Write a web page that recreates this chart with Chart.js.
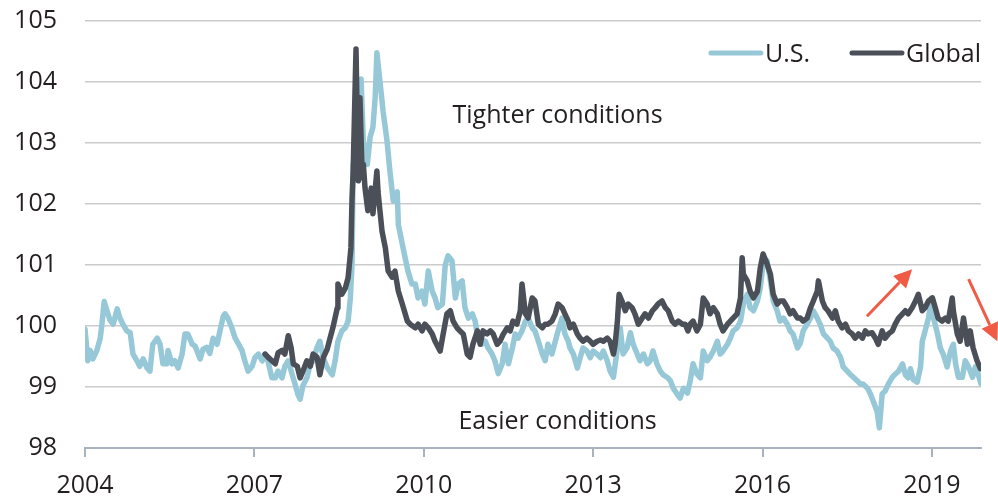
<!DOCTYPE html>
<html><head><meta charset="utf-8">
<script src="https://cdn.jsdelivr.net/npm/chart.js@4"></script>
<style>html,body{margin:0;padding:0;background:#fff;}#wrap{width:998px;height:497px;}</style>
</head><body><div id="wrap"><canvas id="c" width="998" height="497"></canvas></div>
<script>
// [decimal year, index value]
const usSeries = [
[2004.00,99.95],[2004.05,99.43],[2004.09,99.6],[2004.14,99.46],[2004.21,99.6],[2004.27,99.8],[2004.30,100.03],[2004.34,100.4],[2004.39,100.25],[2004.44,100.1],
[2004.50,100.03],[2004.57,100.28],[2004.62,100.13],[2004.67,100.03],[2004.74,99.92],[2004.80,99.89],[2004.85,99.54],[2004.92,99.43],[2004.97,99.34],[2005.03,99.46],
[2005.10,99.31],[2005.15,99.26],[2005.20,99.7],[2005.28,99.8],[2005.33,99.7],[2005.38,99.38],[2005.45,99.38],[2005.47,99.6],[2005.54,99.38],[2005.59,99.43],
[2005.65,99.31],[2005.72,99.54],[2005.77,99.87],[2005.82,99.87],[2005.90,99.7],[2005.95,99.67],[2006.04,99.46],[2006.09,99.62],[2006.16,99.65],[2006.21,99.55],
[2006.27,99.8],[2006.34,99.7],[2006.39,99.92],[2006.45,100.16],[2006.48,100.2],[2006.53,100.13],[2006.60,99.97],[2006.66,99.8],[2006.71,99.72],[2006.78,99.6],
[2006.83,99.43],[2006.89,99.26],[2006.96,99.34],[2007.01,99.48],[2007.07,99.54],[2007.14,99.43],[2007.19,99.54],[2007.24,99.43],[2007.31,99.15],[2007.37,99.15],
[2007.42,99.26],[2007.49,99.15],[2007.54,99.34],[2007.60,99.43],[2007.67,99.2],[2007.72,99.05],[2007.77,98.88],[2007.81,98.8],[2007.86,99.02],[2007.93,99.15],
[2007.99,99.38],[2008.04,99.43],[2008.11,99.65],[2008.16,99.75],[2008.22,99.48],[2008.29,99.32],[2008.38,99.2],[2008.43,99.43],[2008.48,99.75],[2008.55,99.92],
[2008.61,99.97],[2008.66,100.08],[2008.70,100.46],[2008.73,101.02],[2008.75,102.66],[2008.78,102.7],[2008.84,102.75],[2008.89,104.05],[2008.93,103.03],[2009.00,102.65],
[2009.05,103.1],[2009.10,103.26],[2009.14,103.75],[2009.17,104.48],[2009.23,103.96],[2009.28,103.52],[2009.35,103.03],[2009.40,102.54],[2009.46,102.05],[2009.53,102.2],
[2009.55,101.66],[2009.62,101.34],[2009.67,101.12],[2009.72,100.9],[2009.79,100.69],[2009.85,100.69],[2009.90,100.46],[2009.97,100.57],[2010.02,100.36],[2010.08,100.9],
[2010.15,100.57],[2010.20,100.46],[2010.25,100.3],[2010.33,100.36],[2010.38,101.0],[2010.43,101.15],[2010.50,101.07],[2010.56,100.46],[2010.61,100.69],[2010.68,100.74],
[2010.73,100.3],[2010.79,100.13],[2010.86,100.2],[2010.91,100.08],[2010.96,99.8],[2011.03,99.7],[2011.09,99.75],[2011.14,99.64],[2011.21,99.54],[2011.26,99.43],
[2011.32,99.22],[2011.39,99.38],[2011.44,99.7],[2011.50,99.38],[2011.57,99.64],[2011.62,99.87],[2011.67,99.8],[2011.74,99.92],[2011.80,100.08],[2011.85,100.13],
[2011.92,99.97],[2011.97,99.92],[2012.03,99.75],[2012.10,99.54],[2012.15,99.43],[2012.20,99.7],[2012.27,99.54],[2012.33,99.75],[2012.38,99.92],[2012.45,100.13],
[2012.50,99.87],[2012.56,99.75],[2012.59,99.64],[2012.65,99.54],[2012.72,99.31],[2012.77,99.48],[2012.82,99.64],[2012.89,99.59],[2012.95,99.48],[2013.00,99.59],
[2013.07,99.54],[2013.13,99.48],[2013.18,99.59],[2013.25,99.43],[2013.30,99.26],[2013.36,99.16],[2013.43,99.64],[2013.48,99.97],[2013.53,99.54],[2013.60,99.64],
[2013.66,99.89],[2013.71,99.7],[2013.78,99.54],[2013.83,99.43],[2013.89,99.54],[2013.96,99.38],[2014.01,99.43],[2014.06,99.59],[2014.13,99.38],[2014.19,99.26],
[2014.24,99.2],[2014.31,99.16],[2014.37,99.1],[2014.42,98.98],[2014.49,98.88],[2014.54,98.82],[2014.60,98.98],[2014.67,98.9],[2014.72,99.1],[2014.77,99.38],
[2014.84,99.21],[2014.90,99.15],[2014.95,99.59],[2015.02,99.43],[2015.07,99.49],[2015.13,99.59],[2015.20,99.75],[2015.25,99.54],[2015.30,99.59],[2015.38,99.7],
[2015.43,99.8],[2015.48,99.92],[2015.55,99.97],[2015.61,100.08],[2015.66,100.36],[2015.73,100.52],[2015.78,100.3],[2015.84,100.25],[2015.91,100.41],[2015.96,100.62],
[2016.01,101.02],[2016.08,101.07],[2016.14,100.74],[2016.19,100.41],[2016.26,100.25],[2016.31,100.08],[2016.37,100.13],[2016.44,100.03],[2016.49,99.92],[2016.54,99.87],
[2016.62,99.64],[2016.67,99.72],[2016.72,99.92],[2016.79,100.03],[2016.85,100.13],[2016.90,100.25],[2016.97,100.13],[2017.02,100.03],[2017.08,99.87],[2017.15,99.8],
[2017.20,99.75],[2017.25,99.64],[2017.32,99.59],[2017.38,99.49],[2017.43,99.33],[2017.50,99.26],[2017.55,99.21],[2017.61,99.16],[2017.68,99.1],[2017.73,99.05],
[2017.78,99.05],[2017.86,98.98],[2017.91,98.89],[2017.96,98.77],[2018.03,98.6],[2018.07,98.33],[2018.12,98.89],[2018.17,98.93],[2018.23,99.05],[2018.30,99.16],
[2018.35,99.21],[2018.41,99.26],[2018.48,99.38],[2018.53,99.2],[2018.58,99.15],[2018.62,99.3],[2018.67,99.12],[2018.74,99.08],[2018.80,99.33],[2018.83,99.75],
[2018.88,99.92],[2018.94,100.13],[2018.99,100.46],[2019.03,100.13],[2019.10,99.87],[2019.15,99.64],[2019.20,99.54],[2019.27,99.33],[2019.33,99.59],[2019.38,99.7],
[2019.42,99.38],[2019.47,99.16],[2019.54,99.16],[2019.59,99.43],[2019.65,99.33],[2019.72,99.16],[2019.77,99.33],[2019.82,99.21],[2019.87,99.05]
];
const globalSeries = [
[2007.19,99.54],[2007.24,99.49],[2007.31,99.43],[2007.37,99.38],[2007.42,99.56],[2007.49,99.6],[2007.54,99.54],[2007.60,99.84],[2007.65,99.65],[2007.69,99.38],
[2007.76,99.34],[2007.81,99.15],[2007.86,99.26],[2007.93,99.43],[2007.99,99.34],[2008.04,99.54],[2008.11,99.49],[2008.16,99.2],[2008.22,99.48],[2008.29,99.62],
[2008.34,99.8],[2008.39,99.97],[2008.47,100.3],[2008.48,100.69],[2008.55,100.52],[2008.61,100.62],[2008.66,100.79],[2008.71,101.28],[2008.73,102.1],[2008.75,102.54],
[2008.80,104.54],[2008.84,102.38],[2008.87,103.74],[2008.91,102.43],[2008.93,102.65],[2008.96,102.26],[2009.01,101.89],[2009.07,102.26],[2009.10,101.84],[2009.17,102.54],
[2009.19,102.2],[2009.26,101.56],[2009.32,101.28],[2009.37,100.9],[2009.44,100.8],[2009.49,100.9],[2009.55,100.57],[2009.62,100.36],[2009.71,100.08],[2009.76,100.03],
[2009.85,99.97],[2009.90,100.03],[2009.97,99.92],[2010.02,100.03],[2010.08,99.97],[2010.15,99.87],[2010.20,99.75],[2010.29,99.59],[2010.34,99.85],[2010.41,100.2],
[2010.47,100.25],[2010.52,100.08],[2010.59,99.97],[2010.64,99.92],[2010.70,99.87],[2010.77,99.54],[2010.82,99.49],[2010.87,99.7],[2010.95,99.92],[2011.00,99.7],
[2011.05,99.92],[2011.12,99.87],[2011.18,99.92],[2011.23,99.87],[2011.30,99.7],[2011.35,99.75],[2011.41,99.87],[2011.48,99.97],[2011.53,99.92],[2011.58,100.08],
[2011.65,100.03],[2011.71,100.25],[2011.74,100.69],[2011.80,100.2],[2011.85,100.13],[2011.92,100.46],[2011.97,100.41],[2012.03,100.03],[2012.10,99.97],[2012.15,100.03],
[2012.20,100.03],[2012.27,100.08],[2012.33,100.2],[2012.38,100.36],[2012.45,100.3],[2012.50,100.2],[2012.56,100.08],[2012.59,99.97],[2012.65,100.03],[2012.72,99.87],
[2012.77,99.8],[2012.82,99.75],[2012.89,99.8],[2012.95,99.75],[2013.00,99.7],[2013.07,99.75],[2013.13,99.77],[2013.18,99.75],[2013.25,99.8],[2013.30,99.75],
[2013.36,99.54],[2013.39,99.7],[2013.43,100.08],[2013.46,100.52],[2013.51,100.41],[2013.57,100.25],[2013.62,100.36],[2013.69,100.3],[2013.74,100.2],[2013.80,100.03],
[2013.87,100.13],[2013.92,100.2],[2013.98,100.13],[2014.05,100.25],[2014.10,100.3],[2014.15,100.36],[2014.22,100.41],[2014.28,100.3],[2014.33,100.25],[2014.40,100.08],
[2014.45,100.03],[2014.51,100.08],[2014.58,100.03],[2014.63,100.03],[2014.68,99.92],[2014.72,100.03],[2014.77,100.08],[2014.84,99.92],[2014.90,100.03],[2014.95,100.46],
[2015.02,100.36],[2015.07,100.2],[2015.13,100.3],[2015.20,100.2],[2015.25,100.03],[2015.30,99.92],[2015.38,100.03],[2015.43,100.08],[2015.48,100.13],[2015.55,100.2],
[2015.61,100.46],[2015.64,101.12],[2015.66,100.85],[2015.73,100.74],[2015.78,100.57],[2015.84,100.46],[2015.91,100.57],[2015.96,100.95],[2016.01,101.18],[2016.08,101.02],
[2016.14,100.85],[2016.19,100.52],[2016.26,100.36],[2016.31,100.41],[2016.37,100.41],[2016.44,100.3],[2016.49,100.2],[2016.54,100.25],[2016.62,100.13],[2016.67,100.13],
[2016.72,100.08],[2016.79,100.13],[2016.85,100.3],[2016.90,100.41],[2016.97,100.57],[2016.99,100.74],[2017.06,100.41],[2017.11,100.3],[2017.16,100.25],[2017.24,100.13],
[2017.29,100.25],[2017.34,100.08],[2017.41,99.97],[2017.47,100.03],[2017.52,99.92],[2017.59,99.87],[2017.64,99.8],[2017.70,99.87],[2017.77,99.8],[2017.82,99.92],
[2017.87,99.87],[2017.94,99.89],[2018.00,99.8],[2018.05,99.7],[2018.12,99.92],[2018.17,99.8],[2018.23,99.87],[2018.30,99.92],[2018.35,100.03],[2018.41,100.13],
[2018.48,100.2],[2018.53,100.25],[2018.58,100.2],[2018.65,100.3],[2018.71,100.41],[2018.76,100.52],[2018.83,100.25],[2018.88,100.3],[2018.94,100.41],[2019.01,100.46],
[2019.06,100.3],[2019.11,100.13],[2019.18,100.08],[2019.24,100.13],[2019.29,100.08],[2019.36,100.46],[2019.38,100.25],[2019.45,99.87],[2019.50,99.75],[2019.56,100.13],
[2019.63,99.7],[2019.68,99.92],[2019.73,99.64],[2019.80,99.43],[2019.86,99.3]
];
const xTickValues = [2004, 2007, 2010, 2013, 2016, 2019];
const yTickValues = [98, 99, 100, 101, 102, 103, 104, 105];
const seriesNames = ['U.S.', 'Global'];
const seriesColors = ['#96c8d8', '#4a4f58'];
const notes = [
  {text: 'Tighter conditions', x: 2012.37, y: 103.33},
  {text: 'Easier conditions', x: 2012.37, y: 98.31}
];
const arrows = [
  {from: [2017.85, 100.16], to: [2018.65, 100.93]},
  {from: [2019.65, 100.77], to: [2020.16, 99.75]}
];

const FONT = '"Open Sans", "Noto Sans", sans-serif';
const TEXT = '#231f20';

const overlay = {
  id: 'overlay',
  afterDatasetsDraw(chart) {
    const ctx = chart.ctx, xs = chart.scales.x, ys = chart.scales.y, ca = chart.chartArea;
    ctx.save();
    ctx.font = '25px ' + FONT;
    ctx.fillStyle = TEXT;
    ctx.textAlign = 'center';
    ctx.textBaseline = 'alphabetic';
    notes.forEach(n => ctx.fillText(n.text, xs.getPixelForValue(n.x), ys.getPixelForValue(n.y)));
    ctx.strokeStyle = '#ef5b45';
    ctx.fillStyle = '#ef5b45';
    ctx.lineWidth = 3;
    arrows.forEach(a => {
      const x1 = xs.getPixelForValue(a.from[0]), y1 = ys.getPixelForValue(a.from[1]);
      const x2 = xs.getPixelForValue(a.to[0]), y2 = ys.getPixelForValue(a.to[1]);
      const ang = Math.atan2(y2 - y1, x2 - x1);
      const hl = 18, hw = 9;
      const bx = x2 - hl * Math.cos(ang), by = y2 - hl * Math.sin(ang);
      ctx.beginPath(); ctx.moveTo(x1, y1); ctx.lineTo(bx, by); ctx.stroke();
      ctx.beginPath();
      ctx.moveTo(x2, y2);
      ctx.lineTo(bx + hw * Math.sin(ang), by - hw * Math.cos(ang));
      ctx.lineTo(bx - hw * Math.sin(ang), by + hw * Math.cos(ang));
      ctx.closePath(); ctx.fill();
    });
    ctx.textAlign = 'left';
    const lineLen = 54, gap = 2, itemGap = 40;
    const widths = seriesNames.map(s => ctx.measureText(s).width);
    let total = 0;
    widths.forEach((w, i) => { total += lineLen + gap + w + (i < widths.length - 1 ? itemGap : 0); });
    let x = ca.right - total;
    const ly = ca.top + 32, ty = ca.top + 41;
    seriesNames.forEach((s, i) => {
      ctx.strokeStyle = seriesColors[i];
      ctx.lineWidth = 5;
      ctx.lineCap = 'round';
      ctx.beginPath(); ctx.moveTo(x + 2, ly); ctx.lineTo(x + lineLen - 2, ly); ctx.stroke();
      ctx.fillStyle = TEXT;
      ctx.fillText(s, x + lineLen + gap, ty);
      x += lineLen + gap + widths[i] + itemGap;
    });
    ctx.restore();
  }
};

const toPoints = arr => arr.map(p => ({x: p[0], y: p[1]}));

new Chart(document.getElementById('c'), {
  type: 'line',
  data: {
    datasets: [
      {label: seriesNames[0], data: toPoints(usSeries), borderColor: seriesColors[0], borderWidth: 5.5,
       pointRadius: 0, tension: 0, borderJoinStyle: 'round', borderCapStyle: 'round', order: 1},
      {label: seriesNames[1], data: toPoints(globalSeries), borderColor: seriesColors[1], borderWidth: 5.5,
       pointRadius: 0, tension: 0, borderJoinStyle: 'round', borderCapStyle: 'round', order: 0}
    ]
  },
  options: {
    responsive: false,
    animation: false,
    devicePixelRatio: 1,
    layout: {padding: {top: 21, right: 17, left: 0, bottom: 0}},
    plugins: {legend: {display: false}, tooltip: {enabled: false}},
    scales: {
      x: {
        type: 'linear', min: 2004, max: 2019.87,
        afterBuildTicks: s => { s.ticks = xTickValues.map(v => ({value: v})); },
        afterFit: s => { s.height = 49; s.paddingLeft = 0; s.paddingRight = 0; },
        ticks: {font: {family: FONT, size: 25}, color: TEXT, padding: 14, maxRotation: 0, autoSkip: false,
                callback: v => String(v)},
        grid: {drawOnChartArea: false, drawTicks: true, tickLength: 9, color: '#a8b3be', lineWidth: 2},
        border: {display: true, color: '#a8b3be', width: 2}
      },
      y: {
        min: 98, max: 105,
        afterBuildTicks: s => { s.ticks = yTickValues.map(v => ({value: v})); },
        afterFit: s => { s.width = 85; s.paddingTop = 0; s.paddingBottom = 0; },
        ticks: {font: {family: FONT, size: 25}, color: TEXT, padding: 28, callback: v => String(v)},
        grid: {color: c => (c.tick && c.tick.value === 98) ? 'rgba(0,0,0,0)' : '#cbcbcb', lineWidth: 1.5, drawTicks: false},
        border: {display: false}
      }
    }
  },
  plugins: [overlay]
});
</script>
</body></html>
